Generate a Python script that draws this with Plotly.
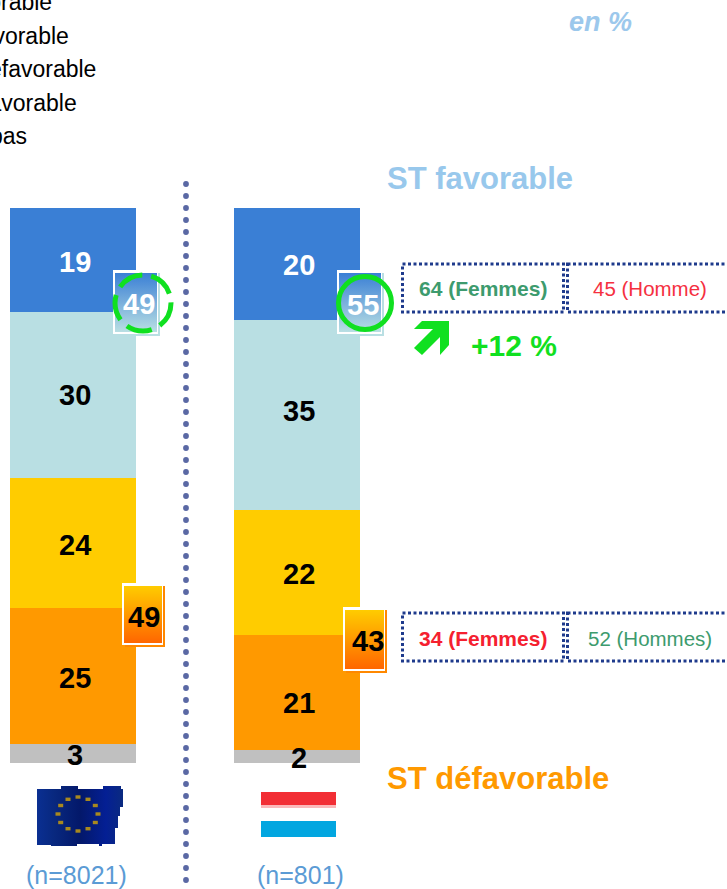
import base64
import math
import plotly.graph_objects as go

# ---- data -------------------------------------------------------------
categories = ["UE", "Luxembourg"]
series_names = ["Très favorable", "Plutôt favorable", "Plutôt défavorable", "Très défavorable", "Ne sait pas"]
series_colors = ["#3a7fd5", "#b9dfe3", "#ffcc00", "#ff9900", "#c0c0c0"]
# segment shares (percent of the column)
tres_favorable = [18.7, 20.2]
plutot_favorable = [29.9, 34.2]
plutot_defavorable = [23.4, 22.5]
tres_defavorable = [24.5, 20.7]
ne_sait_pas = [3.5, 2.4]
series_values = [tres_favorable, plutot_favorable, plutot_defavorable, tres_defavorable, ne_sait_pas]
# printed labels
labels_eu = ["19", "30", "24", "25", "3"]
labels_lu = ["20", "35", "22", "21", "2"]
st_favorable = ["49", "55"]
st_defavorable = ["49", "43"]
sample_sizes = ["(n=8021)", "(n=801)"]
gender_top = ["64 (Femmes)", "45 (Homme)"]
gender_bottom = ["34 (Femmes)", "52 (Hommes)"]

W, H = 727, 889
FONT = "Liberation Sans"
PX_PER_UNIT = 5.55
BASE_Y = 763
C0, STEP, BW = 73, 224, 126


def px(x):
    return x / W


def py(y):
    return 1 - y / H


def svg_uri(svg):
    return "data:image/svg+xml;base64," + base64.b64encode(svg.encode()).decode()


fig = go.Figure()
# stacked from the bottom: last series first
for name, color, vals in reversed(list(zip(series_names, series_colors, series_values))):
    fig.add_trace(go.Bar(x=categories, y=vals, name=name, marker=dict(color=color, line=dict(width=0)),
                         hoverinfo="skip", showlegend=False))

annotations = []
shapes = []
images = []


def txt(x, y, s, size, color, bold=False, italic=False, anchor="center"):
    t = f"<b>{s}</b>" if bold else s
    if italic:
        t = f"<i>{t}</i>"
    annotations.append(dict(x=px(x), y=py(y), xref="paper", yref="paper", text=t, showarrow=False,
                            xanchor=anchor, yanchor="middle", align=anchor if anchor != "center" else "center",
                            font=dict(family=FONT, size=size, color=color)))


# bar labels
for x, labs, ys in [(75, labels_eu, [262, 395, 545, 678, 755]), (299, labels_lu, [265, 411, 574, 703, 758])]:
    for i, (lab, y) in enumerate(zip(labs, ys)):
        txt(x, y, lab, 29, "#ffffff" if i == 0 else "#000000", bold=True)

# clipped legend text on the left edge
for right, y, name in zip([54, 71, 98, 79, 29], [2, 36, 69, 103, 136], series_names):
    txt(right, y, name, 23, "#000000", anchor="right")

txt(600, 22, "en %", 27, "#9cc8ec", bold=True, italic=True)
txt(385, 178, "ST favorable", 31, "#98c8ec", bold=True, anchor="left")
txt(385, 778, "ST défavorable", 31, "#ff9900", bold=True, anchor="left")
txt(76, 875, sample_sizes[0], 25, "#5b9bd5")
txt(300, 875, sample_sizes[1], 25, "#5b9bd5")
txt(483, 288, gender_top[0], 21, "#3d9b6e", bold=True)
txt(650, 288, gender_top[1], 20.5, "#f5303f")
txt(483, 638, gender_bottom[0], 21, "#f5202f", bold=True)
txt(650, 638, gender_bottom[1], 20.5, "#3d9b6e")
txt(514, 345, "+12 %", 30, "#10e020", bold=True)


def badge(x0, y0, x1, y1, c_top, c_bot, shadow):
    w, h = x1 - x0 + 2, y1 - y0 + 2
    svg = (f'<svg xmlns="http://www.w3.org/2000/svg" width="{w}" height="{h}" viewBox="0 0 {w} {h}">'
           f'<defs><linearGradient id="g" x1="0" y1="0" x2="0" y2="1"><stop offset="0" stop-color="{c_top}"/>'
           f'<stop offset="1" stop-color="{c_bot}"/></linearGradient></defs>'
           f'<rect x="3" y="3" width="{w-3}" height="{h-3}" fill="{shadow}"/>'
           f'<rect x="0" y="0" width="{w-2}" height="{h-2}" fill="#ffffff"/>'
           f'<rect x="2" y="3" width="{w-5}" height="{h-7}" fill="url(#g)"/></svg>')
    images.append(dict(source=svg_uri(svg), xref="paper", yref="paper", x=px(x0), y=py(y0),
                       sizex=w / W, sizey=h / H, xanchor="left", yanchor="top", sizing="stretch", layer="above"))


badge(113, 270, 158, 334, "#3a7fd5", "#b9dfe3", "#b9dfe3")
badge(337, 270, 382, 334, "#3a7fd5", "#b9dfe3", "#b9dfe3")
badge(122, 583, 163, 645, "#ffcc00", "#ff6600", "#ff8800")
badge(343, 607, 385, 671, "#ffcc00", "#ff6600", "#ff8800")
txt(139, 304, st_favorable[0], 29, "#ffffff", bold=True)
txt(363, 305, st_favorable[1], 29, "#ffffff", bold=True)
txt(144, 617, st_defavorable[0], 29, "#000000", bold=True)
txt(368, 641, st_defavorable[1], 29, "#000000", bold=True)


def rect(x0, y0, x1, y1, **kw):
    shapes.append(dict(type="rect", xref="paper", yref="paper", x0=px(x0), x1=px(x1), y0=py(y0), y1=py(y1),
                       layer="above", **kw))


def circle(cx, cy, r, **kw):
    shapes.append(dict(type="circle", xref="paper", yref="paper", x0=px(cx - r), x1=px(cx + r),
                       y0=py(cy + r), y1=py(cy - r), layer="above", **kw))


# highlight rings
circle(143, 303, 28, line=dict(color="#10e020", width=5, dash="26px,9px"))
circle(365, 303, 26.5, line=dict(color="#10e020", width=5))

# dotted separator
for i in range(59):
    circle(186, 184 + i * 12, 2.9, fillcolor="#5a68a4", line=dict(width=0))

# dotted boxes
box_line = dict(color="#1e3a8c", width=3, dash="3px,2.5px")
for y0, y1 in [(264, 312), (613, 661)]:
    rect(402.5, y0, 563.5, y1, line=box_line)
    rect(567.5, y0, 735, y1, line=box_line)

# trend arrow
arrow = [(422, 321), (449, 321), (449, 345), (440, 355), (440, 337), (422, 355), (414, 348), (433, 329), (414, 329)]
path = "M " + " L ".join(f"{px(x):.5f},{py(y):.5f}" for x, y in arrow) + " Z"
shapes.append(dict(type="path", xref="paper", yref="paper", path=path, fillcolor="#10e020", line=dict(width=0), layer="above"))

# Luxembourg flag
rect(261, 792, 336, 805, fillcolor="#f22e35", line=dict(width=0))
rect(261, 805, 336, 808, fillcolor="#fbb8ba", line=dict(width=0))
rect(261, 821, 336, 837, fillcolor="#02a6e0", line=dict(width=0))

# EU flag
stars = ""
for i in range(12):
    a = math.radians(i * 30 - 90)
    sx = 41 + 20 * math.cos(a)
    sy = 28 + 17 * math.sin(a)
    stars += f'<rect x="{sx-2.5:.1f}" y="{sy-1.7:.1f}" width="5" height="3.4" fill="#a8891f"/>'
svg_eu = (
    '<svg xmlns="http://www.w3.org/2000/svg" width="86" height="62" viewBox="0 0 86 62">'
    '<defs><linearGradient id="f" x1="0" y1="0" x2="1" y2="0">'
    '<stop offset="0" stop-color="#0a2f92"/><stop offset="0.2" stop-color="#08287f"/>'
    '<stop offset="0.5" stop-color="#03186a"/><stop offset="0.8" stop-color="#041f94"/>'
    '<stop offset="1" stop-color="#0a2a80"/></linearGradient></defs>'
    '<path d="M0,3 H24 V0 H41 V3 H66 V0 H84 V3 H86 V21 H83 V30 H81 V42 H78 V58 H65 V60 H62 V58 H40 V60 H14 V59 H0 Z" fill="url(#f)"/>'
    + stars + '</svg>')
images.append(dict(source=svg_uri(svg_eu), xref="paper", yref="paper", x=px(37), y=py(786),
                   sizex=86 / W, sizey=62 / H, xanchor="left", yanchor="top", sizing="stretch", layer="above"))

fig.update_layout(
    width=W, height=H, autosize=False,
    margin=dict(l=0, r=0, t=0, b=0, pad=0),
    paper_bgcolor="#ffffff", plot_bgcolor="#ffffff",
    barmode="stack", barnorm="percent", bargap=1 - BW / STEP,
    xaxis=dict(type="category", categoryorder="array", categoryarray=categories, domain=[0, 1],
               range=[-C0 / STEP, (W - C0) / STEP], visible=False, fixedrange=True),
    yaxis=dict(domain=[0, 1], range=[-(H - BASE_Y) / PX_PER_UNIT, BASE_Y / PX_PER_UNIT],
               visible=False, fixedrange=True),
    annotations=annotations, shapes=shapes, images=images,
    showlegend=False,
)

fig.write_html("out.html", config=dict(displayModeBar=False),
               post_script="document.body.style.margin='0';document.body.style.overflow='hidden';")
